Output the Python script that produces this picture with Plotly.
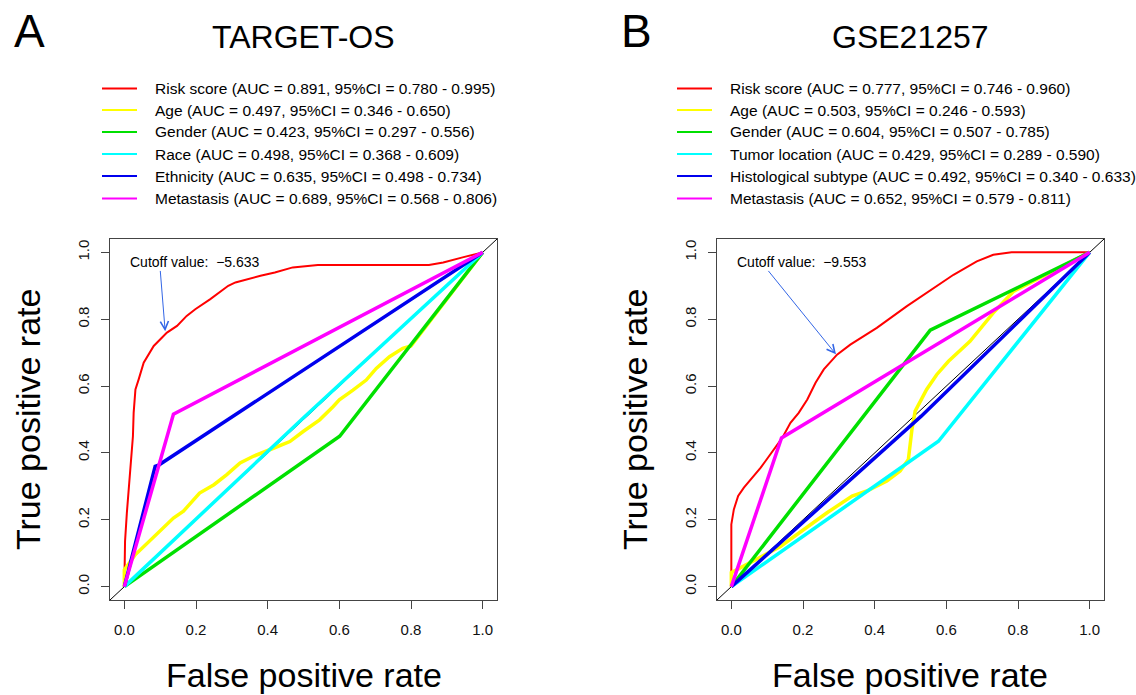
import plotly.graph_objects as go

W, H = 1136, 695

# ---------------- data ----------------
panel_titles = ["TARGET-OS", "GSE21257"]
panel_letters = ["A", "B"]
cutoff_texts = ["Cutoff value:  \u22125.633", "Cutoff value:  \u22129.553"]
cutoff_points_fpr = [0.114, 0.292]
cutoff_points_tpr = [0.764, 0.695]

series_colors = ["#FF0000", "#FFFF00", "#00E000", "#00FFFF", "#0000EE", "#FF00FF"]

labels_A = [
    "Risk score (AUC = 0.891, 95%CI = 0.780 - 0.995)",
    "Age (AUC = 0.497, 95%CI = 0.346 - 0.650)",
    "Gender (AUC = 0.423, 95%CI = 0.297 - 0.556)",
    "Race (AUC = 0.498, 95%CI = 0.368 - 0.609)",
    "Ethnicity (AUC = 0.635, 95%CI = 0.498 - 0.734)",
    "Metastasis (AUC = 0.689, 95%CI = 0.568 - 0.806)",
]
labels_B = [
    "Risk score (AUC = 0.777, 95%CI = 0.746 - 0.960)",
    "Age (AUC = 0.503, 95%CI = 0.246 - 0.593)",
    "Gender (AUC = 0.604, 95%CI = 0.507 - 0.785)",
    "Tumor location (AUC = 0.429, 95%CI = 0.289 - 0.590)",
    "Histological subtype (AUC = 0.492, 95%CI = 0.340 - 0.633)",
    "Metastasis (AUC = 0.652, 95%CI = 0.579 - 0.811)",
]

# Panel A curves (FPR, TPR)
risk_A_fpr = [0, 0, 0.002, 0.007, 0.017, 0.021, 0.024, 0.026, 0.031, 0.040, 0.054, 0.082, 0.119, 0.147,
              0.174, 0.198, 0.240, 0.290, 0.310, 0.380, 0.420, 0.470, 0.540, 0.850, 0.890, 0.944, 1.0]
risk_A_tpr = [0, 0.047, 0.136, 0.220, 0.370, 0.400, 0.450, 0.520, 0.590, 0.620, 0.670, 0.720, 0.760, 0.780,
              0.810, 0.830, 0.860, 0.900, 0.910, 0.930, 0.940, 0.955, 0.962, 0.962, 0.970, 0.985, 1.0]
age_A_fpr = [0, 0, 0.031, 0.082, 0.137, 0.165, 0.210, 0.250, 0.286, 0.323, 0.360, 0.416, 0.462, 0.499,
             0.545, 0.583, 0.600, 0.638, 0.675, 0.703, 0.740, 0.777, 0.800, 1.0]
age_A_tpr = [0, 0.050, 0.096, 0.150, 0.205, 0.226, 0.280, 0.305, 0.335, 0.370, 0.390, 0.414, 0.434, 0.464,
             0.499, 0.539, 0.559, 0.588, 0.618, 0.653, 0.688, 0.713, 0.720, 1.0]
gender_A_fpr = [0, 0.601, 1.0]
gender_A_tpr = [0, 0.450, 1.0]
race_A_fpr = [0, 0.500, 1.0]
race_A_tpr = [0, 0.505, 1.0]
eth_A_fpr = [0, 0.086, 0.095, 1.0]
eth_A_tpr = [0, 0.360, 0.363, 1.0]
meta_A_fpr = [0, 0.137, 1.0]
meta_A_tpr = [0, 0.516, 1.0]

# Panel B curves (FPR, TPR)
risk_B_fpr = [0, 0, 0.007, 0.019, 0.035, 0.058, 0.082, 0.105, 0.123, 0.142, 0.165, 0.188, 0.212, 0.235,
              0.258, 0.295, 0.332, 0.406, 0.490, 0.564, 0.620, 0.685, 0.731, 0.782, 1.0]
risk_B_tpr = [0, 0.186, 0.231, 0.271, 0.296, 0.326, 0.356, 0.390, 0.415, 0.445, 0.490, 0.520, 0.560, 0.610,
              0.650, 0.694, 0.724, 0.774, 0.839, 0.893, 0.933, 0.973, 0.993, 1.0, 1.0]
age_B_fpr = [0, 0, 0.137, 0.267, 0.337, 0.378, 0.434, 0.471, 0.494, 0.504, 0.513, 0.545, 0.573, 0.606,
             0.666, 0.731, 0.787, 1.0]
age_B_tpr = [0, 0.042, 0.120, 0.221, 0.271, 0.286, 0.316, 0.346, 0.380, 0.470, 0.525, 0.590, 0.634, 0.674,
             0.734, 0.819, 0.883, 1.0]
gender_B_fpr = [0, 0.555, 1.0]
gender_B_tpr = [0, 0.767, 1.0]
loc_B_fpr = [0, 0.578, 1.0]
loc_B_tpr = [0, 0.435, 1.0]
hist_B_fpr = [0, 0.530, 1.0]
hist_B_tpr = [0, 0.510, 1.0]
meta_B_fpr = [0, 0.140, 1.0]
meta_B_tpr = [0, 0.445, 1.0]

tick_vals = [0.0, 0.2, 0.4, 0.6, 0.8, 1.0]
tick_text = ["0.0", "0.2", "0.4", "0.6", "0.8", "1.0"]

panels = [
    [(risk_A_fpr, risk_A_tpr), (age_A_fpr, age_A_tpr), (gender_A_fpr, gender_A_tpr),
     (race_A_fpr, race_A_tpr), (eth_A_fpr, eth_A_tpr), (meta_A_fpr, meta_A_tpr)],
    [(risk_B_fpr, risk_B_tpr), (age_B_fpr, age_B_tpr), (gender_B_fpr, gender_B_tpr),
     (loc_B_fpr, loc_B_tpr), (hist_B_fpr, hist_B_tpr), (meta_B_fpr, meta_B_tpr)],
]
panel_labels = [labels_A, labels_B]

# ---------------- layout helpers ----------------
FONT = "Liberation Sans, Arial, Helvetica, sans-serif"
box_left = [110, 717]
box_right = [497, 1104]
box_top, box_bottom = 239, 600
RNG = [-0.04, 1.04]

def px(x):
    return x / W

def py(y):
    return 1 - y / H

fig = go.Figure()
layout = dict(
    width=W, height=H, margin=dict(l=0, r=0, t=0, b=0),
    paper_bgcolor="white", plot_bgcolor="white", showlegend=False,
    font=dict(family=FONT, color="black"),
)
annotations = []
shapes = []

for i in range(2):
    xa = "x" if i == 0 else "x2"
    ya = "y" if i == 0 else "y2"
    # chance diagonal
    fig.add_trace(go.Scatter(x=RNG, y=RNG, mode="lines", line=dict(color="black", width=1),
                             xaxis=xa, yaxis=ya, hoverinfo="skip"))
    for j, (fx, ty) in enumerate(panels[i]):
        fig.add_trace(go.Scatter(
            x=fx, y=ty, mode="lines",
            line=dict(color=series_colors[j], width=2 if j == 0 else 3.5),
            xaxis=xa, yaxis=ya, name=panel_labels[i][j]))

    axis_common = dict(
        range=RNG, tickvals=tick_vals, ticktext=tick_text, ticks="outside", ticklen=8,
        tickcolor="#444", tickwidth=1, showline=True, mirror=True, linecolor="#444", linewidth=1,
        showgrid=False, zeroline=False, tickfont=dict(size=15, family=FONT, color="#111"),
        fixedrange=True,
    )
    layout["xaxis" + ("" if i == 0 else "2")] = dict(
        axis_common, domain=[px(box_left[i]), px(box_right[i])], anchor=ya,
        ticklabelstandoff=8)
    layout["yaxis" + ("" if i == 0 else "2")] = dict(
        axis_common, domain=[py(box_bottom), py(box_top)], anchor=xa, tickangle=-90,
        ticklabelstandoff=6)

    # panel letter and title
    annotations.append(dict(text=panel_letters[i], x=px(12 + 607 * i), y=py(31), xref="paper", yref="paper",
                            xanchor="left", yanchor="middle", showarrow=False,
                            font=dict(size=46, family=FONT, color="black")))
    cx = (box_left[i] + box_right[i]) / 2
    annotations.append(dict(text=panel_titles[i], x=px(cx), y=py(37), xref="paper", yref="paper",
                            xanchor="center", yanchor="middle", showarrow=False,
                            font=dict(size=32, family=FONT, color="black")))
    # axis titles
    annotations.append(dict(text="False positive rate", x=px(cx), y=py(675), xref="paper", yref="paper",
                            xanchor="center", yanchor="middle", showarrow=False,
                            font=dict(size=34, family=FONT, color="black")))
    annotations.append(dict(text="True positive rate", x=px(28 + 607 * i), y=py(420), xref="paper",
                            yref="paper", xanchor="center", yanchor="middle", textangle=-90,
                            showarrow=False, font=dict(size=34, family=FONT, color="black")))
    # legend (manual, R style)
    line_x0 = [102, 677][i]
    rows_y = [88.5, 110, 132, 154, 176, 198.5]
    for j in range(6):
        shapes.append(dict(type="line", xref="paper", yref="paper",
                           x0=px(line_x0), x1=px(line_x0 + 35), y0=py(rows_y[j]), y1=py(rows_y[j]),
                           line=dict(color=series_colors[j], width=2)))
        annotations.append(dict(text=panel_labels[i][j], x=px(line_x0 + 51), y=py(rows_y[j]),
                                xref="paper", yref="paper", xanchor="left", yanchor="middle",
                                showarrow=False, font=dict(size=15.5, family=FONT, color="black")))
    # cutoff text + arrow
    annotations.append(dict(text=cutoff_texts[i], x=0.01, y=0.97, xref=xa, yref=ya,
                            xanchor="left", yanchor="middle", showarrow=False,
                            font=dict(size=14, family=FONT, color="black")))
    annotations.append(dict(text="", x=cutoff_points_fpr[i], y=cutoff_points_tpr[i], xref=xa, yref=ya,
                            ax=0.10, ay=0.949, axref=xa, ayref=ya, showarrow=True,
                            arrowhead=5, arrowsize=1.6, arrowwidth=1, arrowcolor="#3366E6",
                            standoff=0, startstandoff=0))

layout["annotations"] = annotations
layout["shapes"] = shapes
fig.update_layout(**layout)
fig.write_html("out.html", config={"displayModeBar": False},
               post_script="document.body.style.margin='0px';")
